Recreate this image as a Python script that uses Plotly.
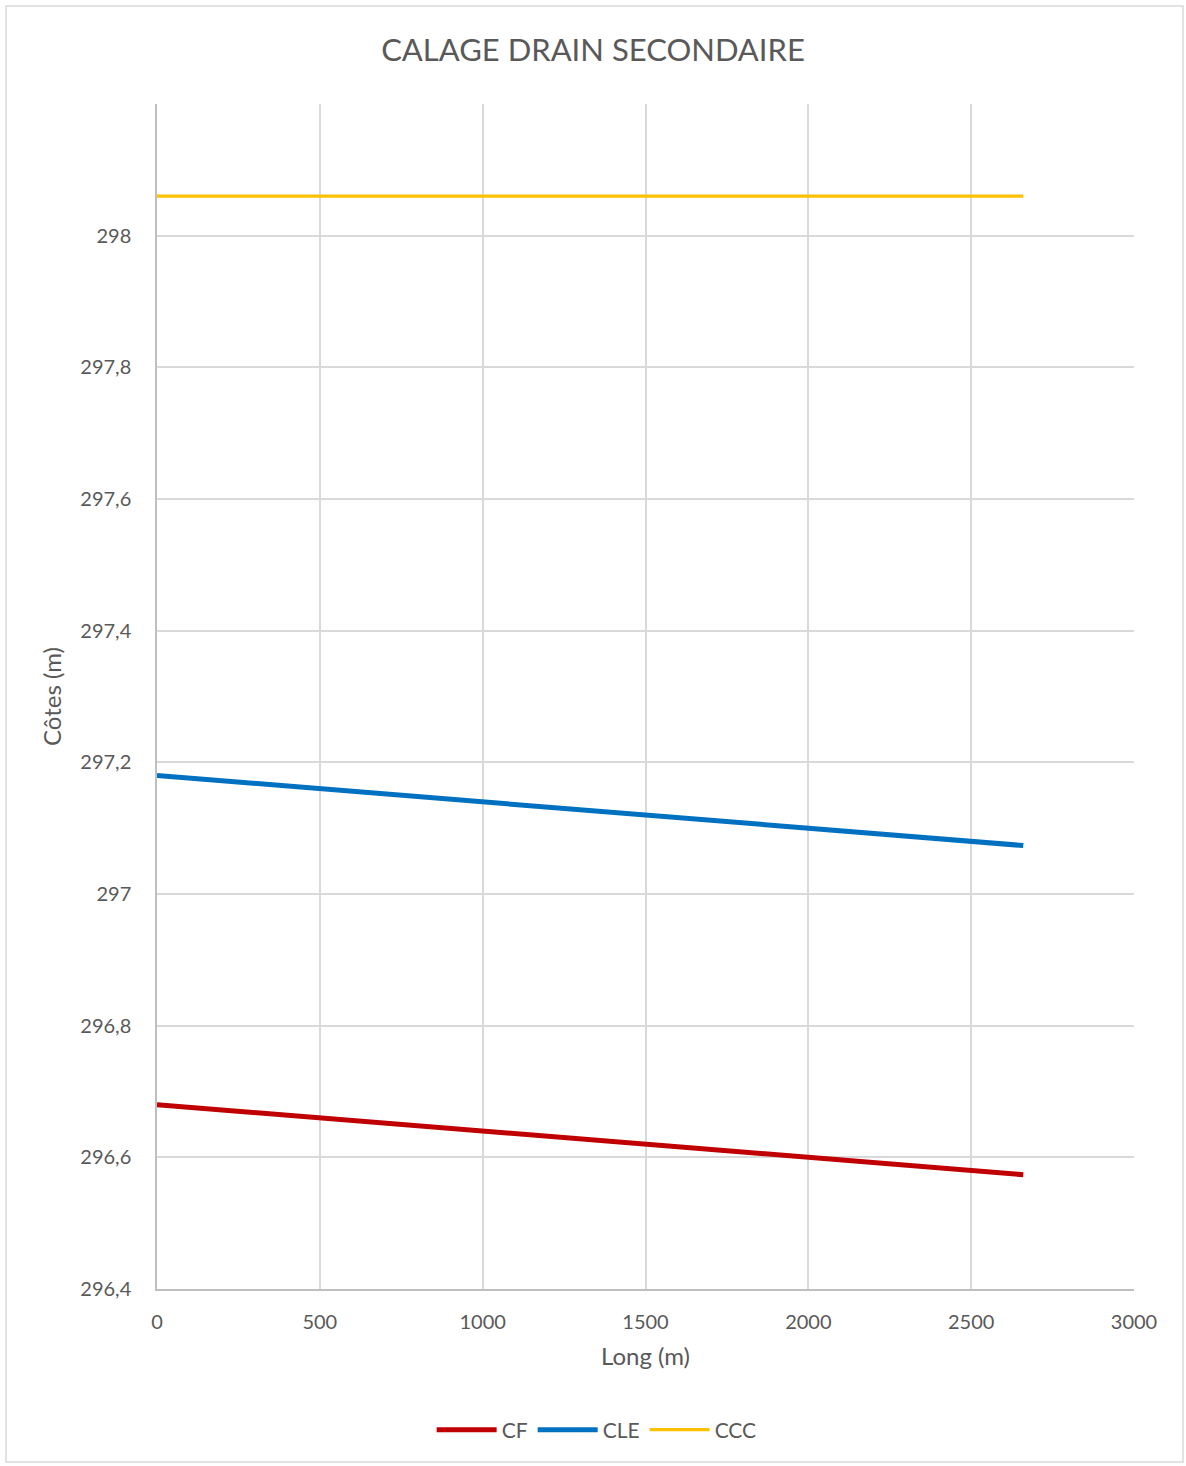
import plotly.graph_objects as go

# Longitudinal profile of the secondary drain
long_m = [0, 500, 1000, 1500, 2000, 2500, 2660]
cf = [296.68, 296.66, 296.64, 296.62, 296.60, 296.58, 296.5736]
cle = [297.18, 297.16, 297.14, 297.12, 297.10, 297.08, 297.0736]
ccc = [298.06, 298.06, 298.06, 298.06, 298.06, 298.06, 298.06]

y_ticks = [296.4, 296.6, 296.8, 297.0, 297.2, 297.4, 297.6, 297.8, 298.0]
y_labels = ["296,4", "296,6", "296,8", "297", "297,2", "297,4", "297,6", "297,8", "298"]
x_ticks = [0, 500, 1000, 1500, 2000, 2500, 3000]

FONT = "Lato, 'Open Sans', sans-serif"
GREY = "#595959"

fig = go.Figure()
fig.add_trace(go.Scatter(x=long_m, y=cf, name="CF", mode="lines",
                         line=dict(color="#C00000", width=5)))
fig.add_trace(go.Scatter(x=long_m, y=cle, name="CLE", mode="lines",
                         line=dict(color="#0070C0", width=5)))
fig.add_trace(go.Scatter(x=long_m, y=ccc, name="CCC", mode="lines",
                         line=dict(color="#FFC000", width=3.2)))

fig.update_layout(
    width=1186, height=1466,
    margin=dict(l=157, r=52, t=104, b=177),
    paper_bgcolor="white", plot_bgcolor="white",
    font=dict(family=FONT, color=GREY, size=20),
    title=dict(text="CALAGE DRAIN SECONDAIRE", x=0.5, xanchor="center",
               y=1 - 50 / 1466, yanchor="middle",
               font=dict(family=FONT, size=31, color=GREY)),
    showlegend=True,
    legend=dict(orientation="h", x=0.45, xanchor="center",
                y=-(1430 - 1289) / 1185, yanchor="middle",
                font=dict(size=21, color=GREY), itemwidth=60),
    shapes=[dict(type="rect", xref="paper", yref="paper",
                 x0=(6 - 157) / 977, x1=(1183 - 157) / 977,
                 y0=(1289 - 1462) / 1185, y1=(1289 - 6) / 1185,
                 line=dict(color="#D9D9D9", width=1.5), layer="below")],
)

fig.update_xaxes(
    range=[0, 3000], tickvals=x_ticks, ticktext=[str(v) for v in x_ticks],
    showgrid=True, gridcolor="#D9D9D9", gridwidth=1.5,
    showline=True, linecolor="#BFBFBF", linewidth=1.5, zeroline=False,
    ticks="", ticklabelstandoff=14,
    title=dict(text="Long (m)", font=dict(size=24, color=GREY), standoff=16),
)
fig.update_yaxes(
    range=[296.4, 298.2], tickvals=y_ticks, ticktext=y_labels,
    showgrid=True, gridcolor="#D9D9D9", gridwidth=1.5,
    showline=True, linecolor="#BFBFBF", linewidth=1.5, zeroline=False,
    ticks="", ticklabelstandoff=20,
    title=dict(text="Côtes (m)", font=dict(size=24, color=GREY), standoff=12),
)

fig.write_html("out.html")
